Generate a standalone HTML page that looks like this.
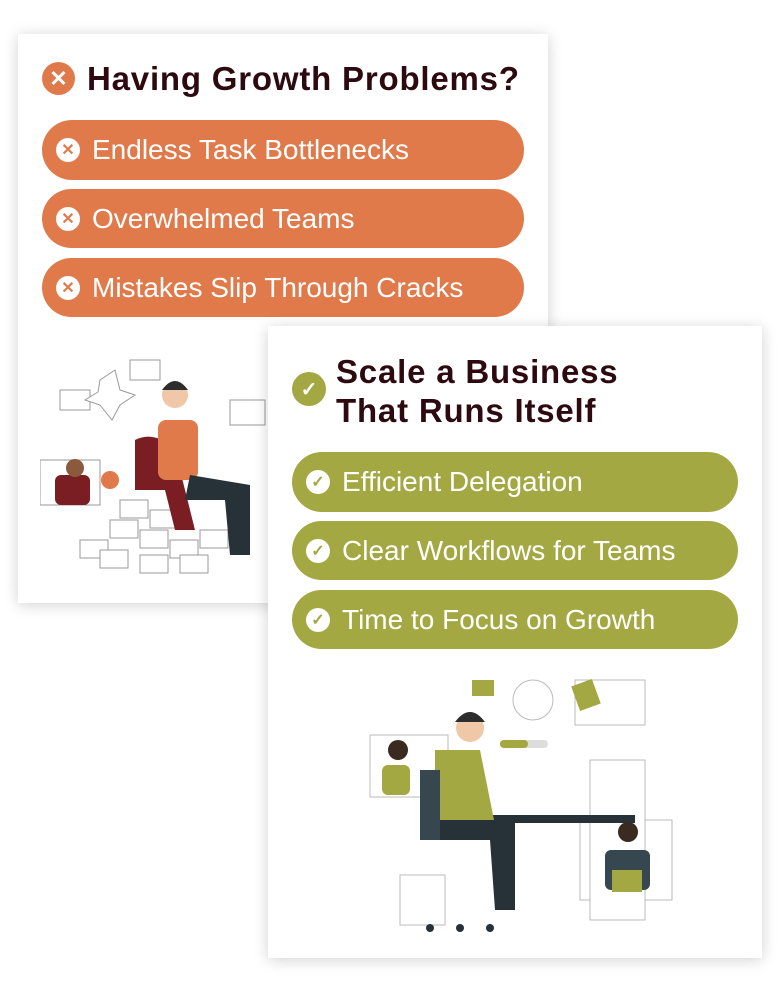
<!DOCTYPE html>
<html><head><meta charset="utf-8"><style>
*{margin:0;padding:0;box-sizing:border-box}
body{width:780px;height:1007px;background:#fff;position:relative;overflow:hidden;font-family:"Liberation Sans",sans-serif}
.card{position:absolute;background:#fff;box-shadow:0 2px 14px rgba(0,0,0,0.18)}
.title{position:absolute;font-weight:bold;color:#2d0a10;font-size:33px;line-height:39px;letter-spacing:0.8px}
.ic{position:absolute;border-radius:50%;display:flex;align-items:center;justify-content:center;color:#fff;font-weight:bold}
.pill{position:absolute;border-radius:30px;color:#fff;font-size:28px;display:flex;align-items:center;white-space:nowrap}
.pill .d{width:24px;height:24px;border-radius:50%;background:#fff;margin:0 12px 0 14px;display:flex;align-items:center;justify-content:center;font-size:16px;font-weight:bold}
.o{background:#E07A4B}.g{background:#A3A843}
.o .d{color:#E07A4B}.g .d{color:#A3A843}
</style></head><body>
<div class="card" style="left:18px;top:34px;width:530px;height:569px"></div>
<div class="ic o" style="left:42px;top:62px;width:33px;height:33px;font-size:22px">✕</div>
<div class="title" style="left:87px;top:59px">Having Growth Problems?</div>
<div class="pill o" style="left:42px;top:120px;width:482px;height:60px"><span class="d">✕</span>Endless Task Bottlenecks</div>
<div class="pill o" style="left:42px;top:189px;width:482px;height:59px"><span class="d">✕</span>Overwhelmed Teams</div>
<div class="pill o" style="left:42px;top:258px;width:482px;height:59px"><span class="d">✕</span>Mistakes Slip Through Cracks</div>
<svg style="position:absolute;left:40px;top:350px" width="240" height="230">
<g fill="#fff" stroke="#999" stroke-width="1">
<rect x="20" y="40" width="30" height="20"/><rect x="70" y="170" width="28" height="18"/><rect x="40" y="190" width="28" height="18"/><rect x="100" y="180" width="28" height="18"/><rect x="130" y="190" width="28" height="18"/><rect x="80" y="150" width="28" height="18"/><rect x="110" y="160" width="28" height="18"/><rect x="160" y="180" width="28" height="18"/><rect x="60" y="200" width="28" height="18"/><rect x="100" y="205" width="28" height="18"/><rect x="140" y="205" width="28" height="18"/><rect x="90" y="10" width="30" height="20"/><rect x="0" y="110" width="60" height="45"/><rect x="190" y="50" width="35" height="25"/>
<polygon points="60,30 75,20 80,40 95,45 80,55 72,70 60,55 45,50 58,42" />
</g>
<path d="M95 90 q20 -10 40 10 l20 80 -20 0 -10 -40 -30 0z" fill="#7a1e24"/>
<rect x="118" y="70" width="40" height="60" rx="8" fill="#E07A4B"/>
<circle cx="135" cy="45" r="13" fill="#f0c8a8"/><path d="M122 40 q13 -18 26 0z" fill="#2d2d2d"/>
<path d="M150 125 l60 10 0 70 -20 0 -5 -55 -40 0z" fill="#263238"/>
<rect x="15" y="125" width="35" height="30" rx="6" fill="#7a1e24"/><circle cx="35" cy="118" r="9" fill="#8b5a3c"/>
<circle cx="70" cy="130" r="9" fill="#E07A4B"/>
</svg>

<div class="card" style="left:268px;top:326px;width:494px;height:632px"></div>
<div class="ic g" style="left:292px;top:372px;width:34px;height:34px;font-size:20px">✓</div>
<div class="title" style="left:336px;top:352px">Scale a Business<br>That Runs Itself</div>
<div class="pill g" style="left:292px;top:452px;width:446px;height:60px"><span class="d">✓</span>Efficient Delegation</div>
<div class="pill g" style="left:292px;top:521px;width:446px;height:59px"><span class="d">✓</span>Clear Workflows for Teams</div>
<div class="pill g" style="left:292px;top:590px;width:446px;height:59px"><span class="d">✓</span>Time to Focus on Growth</div>
<svg style="position:absolute;left:350px;top:670px" width="330" height="270">
<g fill="#fff" stroke="#bbb" stroke-width="1">
<rect x="20" y="65" width="78" height="62"/><rect x="225" y="10" width="70" height="45"/><rect x="230" y="150" width="92" height="80"/><rect x="240" y="90" width="55" height="160"/><circle cx="183" cy="30" r="20"/><rect x="50" y="205" width="45" height="50"/>
</g>
<rect x="122" y="10" width="22" height="16" fill="#A3A843"/><rect x="225" y="12" width="22" height="26" fill="#A3A843" transform="rotate(-20 236 25)"/>
<rect x="150" y="70" width="48" height="8" rx="4" fill="#ddd"/><rect x="150" y="70" width="28" height="8" rx="4" fill="#A3A843"/>
<rect x="75" y="145" width="210" height="8" fill="#263238"/>
<path d="M85 80 l45 0 15 75 -60 0z" fill="#A3A843"/>
<circle cx="120" cy="58" r="14" fill="#f0c8a8"/><path d="M105 52 q15 -20 30 0z" fill="#2d2d2d"/>
<path d="M85 150 l80 0 0 90 -20 0 -5 -70 -55 0z" fill="#263238"/>
<rect x="70" y="100" width="20" height="70" fill="#37474f"/>
<rect x="32" y="95" width="28" height="30" rx="6" fill="#A3A843"/><circle cx="48" cy="80" r="10" fill="#3a2a20"/>
<rect x="255" y="180" width="45" height="40" rx="6" fill="#37474f"/><circle cx="278" cy="162" r="10" fill="#3a2a20"/>
<rect x="262" y="200" width="30" height="22" fill="#A3A843"/>
<circle cx="80" cy="258" r="4" fill="#263238"/><circle cx="110" cy="258" r="4" fill="#263238"/><circle cx="140" cy="258" r="4" fill="#263238"/>
</svg>
</body></html>
